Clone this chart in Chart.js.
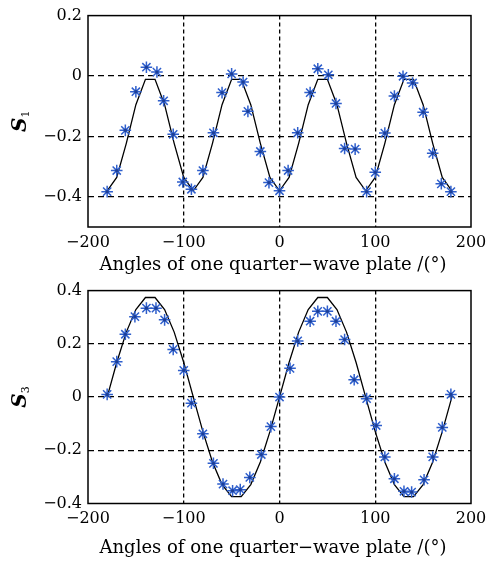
<!DOCTYPE html>
<html>
<head>
<meta charset="utf-8">
<script src="https://cdn.jsdelivr.net/npm/chart.js@4.4.1/dist/chart.umd.min.js"></script>
<style>
  html, body { margin: 0; padding: 0; background: #fff; }
  canvas { display: block; }
</style>
</head>
<body>
<canvas id="s1Chart" width="497" height="275"></canvas>
<canvas id="s3Chart" width="497" height="286"></canvas>
<script>
// model curves, sampled every 10 degrees
const modelAngles = [-180, -170, -160, -150, -140, -130, -120, -110, -100, -90, -80, -70, -60, -50, -40, -30, -20, -10, 0,
    10, 20, 30, 40, 50, 60, 70, 80, 90, 100, 110, 120, 130, 140, 150, 160, 170, 180];
const s1Model = [-0.38, -0.336, -0.223, -0.095, -0.011, -0.011, -0.095, -0.223, -0.336,
    -0.38, -0.336, -0.223, -0.095, -0.011, -0.011, -0.095, -0.223, -0.336,
    -0.38, -0.336, -0.223, -0.095, -0.011, -0.011, -0.095, -0.223, -0.336,
    -0.38, -0.336, -0.223, -0.095, -0.011, -0.011, -0.095, -0.223, -0.336, -0.38];
const s3Model = [0, 0.13, 0.244, 0.329, 0.374, 0.374, 0.329, 0.244, 0.13,
    0, -0.13, -0.244, -0.329, -0.374, -0.374, -0.329, -0.244, -0.13,
    0, 0.13, 0.244, 0.329, 0.374, 0.374, 0.329, 0.244, 0.13,
    0, -0.13, -0.244, -0.329, -0.374, -0.374, -0.329, -0.244, -0.13, 0];

// measured points
const s1Angles = [-180, -170, -161, -150, -139, -128, -121, -111, -101, -92, -80, -69, -60, -50, -38, -33, -20, -11, 0,
    9, 19, 32, 40, 51, 59, 68, 79, 91, 100, 110, 120, 129, 139, 150, 160, 169, 179];
const s1Measured = [-0.383, -0.313, -0.18, -0.052, 0.029, 0.013, -0.082, -0.193, -0.351, -0.375, -0.313, -0.188, -0.055, 0.007, -0.02, -0.117, -0.25, -0.353, -0.38,
    -0.313, -0.188, -0.055, 0.024, 0.004, -0.091, -0.24, -0.242, -0.383, -0.319, -0.189, -0.066, -0.001, -0.023, -0.12, -0.256, -0.357, -0.383];
const s3Angles = [-180, -170, -161, -151, -139, -129, -120, -111, -100, -92, -80, -69, -59, -49, -41, -31, -19, -9, 0,
    11, 19, 32, 40, 50, 59, 68, 78, 91, 101, 110, 120, 130, 138, 151, 160, 170, 179];
const s3Measured = [0.01, 0.133, 0.236, 0.302, 0.334, 0.334, 0.29, 0.179, 0.1, -0.023, -0.138, -0.249, -0.327, -0.352, -0.348, -0.302, -0.216, -0.111, 0.0,
    0.108, 0.211, 0.285, 0.322, 0.322, 0.285, 0.216, 0.065, -0.006, -0.107, -0.225, -0.307, -0.354, -0.357, -0.311, -0.225, -0.114, 0.01];

const xTicks = [-200, -100, 0, 100, 200];
const s1Ticks = [-0.4, -0.2, 0, 0.2];
const s3Ticks = [-0.4, -0.2, 0, 0.2, 0.4];

const xTitle = 'Angles of one quarter\u2212wave plate /(\u00b0)';
const serif = "'DejaVu Serif', serif";
const starBlue = '#2f5fcc';
const starCore = '#1d3f96';

function fmt(v) {
    return v === 0 ? '0' : String(v).replace('-', '\u2212');
}

function pairs(xs, ys) {
    return xs.map((x, i) => ({ x: x, y: ys[i] }));
}

// box around the plot area, x title, and the rotated S label with subscript
const framePlugin = {
    id: 'frame',
    afterDraw(chart, args, opts) {
        const { ctx, chartArea: a } = chart;
        ctx.save();
        ctx.strokeStyle = '#000';
        ctx.lineWidth = 1.5;
        ctx.strokeRect(a.left, a.top, a.right - a.left, a.bottom - a.top);

        ctx.fillStyle = '#000';
        ctx.font = "18px " + serif;
        ctx.textAlign = 'center';
        ctx.textBaseline = 'middle';
        ctx.fillText(xTitle, 273, opts.titleY);

        ctx.textAlign = 'left';
        ctx.textBaseline = 'alphabetic';
        ctx.translate(19, (a.top + a.bottom) / 2);
        ctx.rotate(-Math.PI / 2);
        ctx.font = "italic bold 20px " + serif;
        const wS = ctx.measureText('S').width;
        ctx.font = "11px " + serif;
        const wSub = ctx.measureText(opts.sub).width;
        const x0 = -(wS + wSub) / 2;
        ctx.font = "italic bold 20px " + serif;
        ctx.fillText('S', x0, 7);
        ctx.font = "11px " + serif;
        ctx.fillText(opts.sub, x0 + wS, 10);
        ctx.restore();
    }
};

function makeChart(id, cfg) {
    const edgeX = [xTicks[0], xTicks[xTicks.length - 1]];
    return new Chart(id, {
        type: 'scatter',
        data: {
            datasets: [
                {
                    label: 'measured core',
                    data: pairs(cfg.angles, cfg.measured),
                    pointStyle: 'circle',
                    pointRadius: 1.6,
                    borderWidth: 0,
                    backgroundColor: starCore,
                    showLine: false
                },
                {
                    label: 'measured',
                    data: pairs(cfg.angles, cfg.measured),
                    pointStyle: 'star',
                    pointRadius: 5.8,
                    borderColor: starBlue,
                    backgroundColor: starBlue,
                    pointBorderWidth: 1.5,
                    showLine: false
                },
                {
                    label: 'model',
                    data: pairs(modelAngles, cfg.model),
                    showLine: true,
                    borderColor: '#000',
                    borderWidth: 1.3,
                    pointRadius: 0,
                    tension: 0
                }
            ]
        },
        options: {
            responsive: false,
            animation: false,
            layout: { padding: { left: 0, right: 26, top: cfg.padTop, bottom: 0 } },
            plugins: {
                legend: { display: false },
                tooltip: { enabled: false },
                frame: { sub: cfg.sub, titleY: cfg.titleY }
            },
            scales: {
                x: {
                    type: 'linear',
                    min: -200,
                    max: 200,
                    afterBuildTicks: axis => { axis.ticks = xTicks.map(v => ({ value: v })); },
                    afterFit: scale => { scale.height = cfg.xHeight; },
                    grid: {
                        drawTicks: false,
                        lineWidth: 1.3,
                        color: c => (c.tick && edgeX.includes(c.tick.value)) ? 'rgba(0,0,0,0)' : '#000'
                    },
                    border: { display: false, dash: [4, 3] },
                    ticks: {
                        color: '#000',
                        padding: 6,
                        font: { family: serif, size: 16 },
                        maxRotation: 0,
                        callback: v => fmt(v)
                    }
                },
                y: {
                    type: 'linear',
                    min: cfg.yMin,
                    max: cfg.yMax,
                    afterBuildTicks: axis => { axis.ticks = cfg.yTicks.map(v => ({ value: v })); },
                    afterFit: scale => { scale.width = 88; },
                    grid: {
                        drawTicks: false,
                        lineWidth: 1.3,
                        color: c => (c.tick && (c.tick.value === cfg.yMax || c.tick.value === cfg.yMin)) ? 'rgba(0,0,0,0)' : '#000'
                    },
                    border: { display: false, dash: [6, 4] },
                    ticks: {
                        color: '#000',
                        padding: 6,
                        font: { family: serif, size: 16 },
                        callback: v => fmt(v)
                    }
                }
            }
        },
        plugins: [framePlugin]
    });
}

const s1Chart = makeChart('s1Chart', {
    angles: s1Angles, measured: s1Measured, model: s1Model,
    yMin: -0.5, yMax: 0.2, yTicks: s1Ticks, sub: '1',
    padTop: 11, xHeight: 48, titleY: 265
});

const s3Chart = makeChart('s3Chart', {
    angles: s3Angles, measured: s3Measured, model: s3Model,
    yMin: -0.4, yMax: 0.4, yTicks: s3Ticks, sub: '3',
    padTop: 14, xHeight: 57.5, titleY: 273
});
</script>
</body>
</html>
